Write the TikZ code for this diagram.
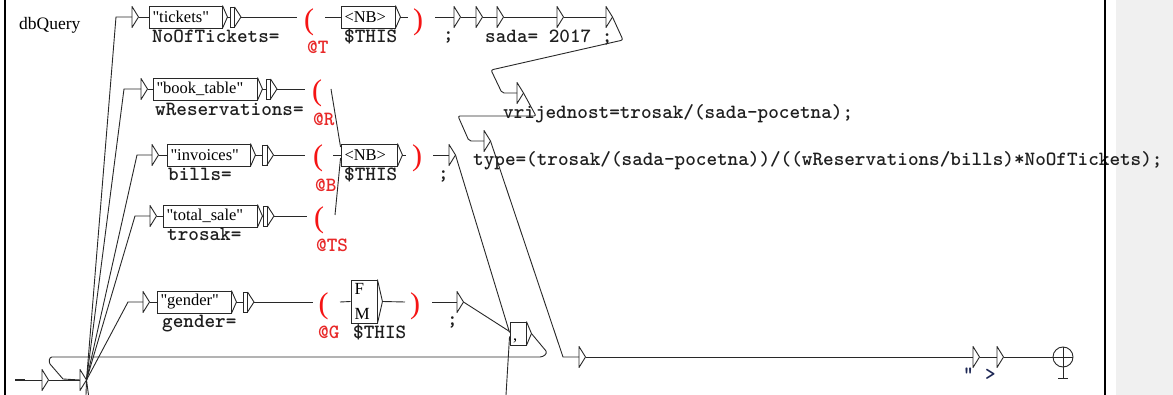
\documentclass[tikz,border=0pt]{standalone}
\usepackage{fontspec}
\setmainfont{Liberation Serif}
\newfontfamily\boxfam{Liberation Serif}
\usetikzlibrary{calc}

\definecolor{varred}{RGB}{232,40,40}
\definecolor{parred}{RGB}{245,20,20}
\definecolor{outnavy}{RGB}{30,40,85}
\definecolor{panelgray}{RGB}{240,240,240}
\definecolor{ink}{RGB}{40,40,40}

\newcommand{\outfont}{\fontsize{20.2}{22}\selectfont\ttfamily\bfseries}
\newcommand{\boxfont}{\fontsize{16.5}{18}\selectfont\boxfam}
% the ">" exit mark on the right side of a box, with its exit point
\newcommand{\boxtip}[1]{\draw[wire, line join=round] (#1.north east) -- ([xshift=5pt]#1.east) coordinate (#1-out) -- (#1.south east);}

\tikzset{
  wire/.style={line width=0.9pt, draw=ink},
  boxnode/.style={draw=ink, line width=0.9pt, text=black, inner xsep=3.5pt,
    inner ysep=0pt, minimum height=22pt, align=left, font=\boxfont},
  outtext/.style={anchor=base west, inner sep=0pt, font=\outfont, text=black!88},
  vartext/.style={outtext, text=varred},
  paren/.style={inner sep=0pt, font=\fontsize{30}{32}\selectfont\boxfam, text=parred},
  pics/epsbox/.style={code={
    \coordinate (-in) at (0,0);
    \coordinate (-out) at (6.5,0);
    \draw[wire, line join=round] (0,-10.5) -- (0,10.5) -- (6.5,0) -- cycle;
  }},
  pics/varend/.style={code={
    \coordinate (-in) at (0,0);
    \coordinate (-out) at (11,0);
    \draw[wire] (0,-10) rectangle (4.5,10);
    \draw[wire, line join=round] (4.5,-10) -- (11,0) -- (4.5,10);
  }},
}

\begin{document}
\begin{tikzpicture}[x=1pt, y=-1pt]
\useasboundingbox (0,0) rectangle (1173,395);
\fill[white] (0,0) rectangle (1173,395);
\fill[panelgray] (1116,0) rectangle (1173,395);
\draw[line width=2pt, black] (5,0) -- (5,395);

\node[anchor=base west, inner sep=0pt, font=\fontsize{17.5}{20}\selectfont] (title) at (19,30) {dbQuery};

% initial state
\coordinate (init) at (15,380);
\coordinate (initend) at (25,380);
\draw[line width=2.4pt, ink] (init) -- (initend);
\pic (s1) at (42,380) {epsbox};
\pic (s2) at (80,380) {epsbox};
\draw[wire] (initend) -- (s1-in);
\draw[wire] (s1-out) -- (s2-in);

% ---------- row 1 : tickets ----------
\pic (e1) at (132,17) {epsbox};
\node[boxnode, text width=66pt] (b1) at (185.5,17) {"tickets"};
\boxtip{b1}
\pic (v1) at (230,17) {varend};
\draw[wire] (e1-out) -- (b1.west) (b1-out) -- (v1-in) (v1-out) -- (297,17);
\node[paren] (po1) at (309,22) {(};
\node[boxnode, text width=47pt] (nb1) at (368,17) {<NB>};
\boxtip{nb1}
\draw[wire] (325,17) -- (nb1.west) (nb1-out) -- (408,17);
\node[paren] (pc1) at (418,22) {)};
\pic (t1a) at (454,17) {epsbox};
\pic (t1b) at (476,17) {epsbox};
\pic (t1c) at (497,17) {epsbox};
\pic (t1d) at (557,17) {epsbox};
\pic (t1e) at (606,17) {epsbox};
\draw[wire] (435,17) -- (t1a-in) (t1a-out) -- (t1b-in) (t1b-out) -- (t1c-in)
  (t1c-out) -- (t1d-in) (t1d-out) -- (t1e-in);
\node[outtext] (o1) at (152,43) {NoOfTickets=};
\node[outtext] (th1) at (344,43) {\$THIS};
\node[vartext] (vT) at (307,54) {@T};
\node[outtext] (sc1) at (443,41) {;};
\node[outtext] (sada) at (485,43) {sada= 2017 ;};

% ---------- row 2 : book_table ----------
\pic (e2) at (141,89) {epsbox};
\node[boxnode, text width=97pt] (b2) at (205,89) {"book\_table"};
\boxtip{b2}
\pic (v2) at (266,89) {varend};
\draw[wire] (e2-out) -- (b2.west) (b2-out) -- (v2-in) (v2-out) -- (305,89);
\node[paren] (po2) at (317,93) {(};
\node[outtext] (o2) at (155,116) {wReservations=};
\node[vartext] (vR) at (313,126) {@R};

% ---------- row 3 : invoices ----------
\pic (e3) at (152,155) {epsbox};
\node[boxnode, text width=76pt] (b3) at (208.5,155) {"invoices"};
\boxtip{b3}
\pic (v3) at (262.5,155) {varend};
\draw[wire] (e3-out) -- (b3.west) (b3-out) -- (v3-in) (v3-out) -- (305,155);
\node[paren] (po3) at (318,158.5) {(};
\node[boxnode, text width=49pt] (nb2) at (369,155) {<NB>};
\boxtip{nb2}
\draw[wire] (333,155) -- (nb2.west) (nb2-out) -- (406,155);
\node[paren] (pc3) at (417,158.5) {)};
\pic (t3) at (449,155) {epsbox};
\draw[wire] (433,155) -- (t3-in);
\node[outtext] (o3) at (168,181) {bills=};
\node[outtext] (th3) at (344,181) {\$THIS};
\node[vartext] (vB) at (315,192) {@B};
\node[outtext] (sc3) at (438,180) {;};

% ---------- row 4 : total_sale ----------
\pic (e4) at (150,216) {epsbox};
\node[boxnode, text width=87pt] (b4) at (210,216) {"total\_sale"};
\boxtip{b4}
\pic (v4) at (263,216) {varend};
\draw[wire] (e4-out) -- (b4.west) (b4-out) -- (v4-in) (v4-out) -- (307,216);
\node[paren] (po4) at (319,220) {(};
\node[outtext] (o4) at (167,241) {trosak=};
\node[vartext] (vTS) at (316,252) {@TS};

% variables R and TS lead into the shared number box
\draw[wire] (331,89) -- ([yshift=8pt]nb2.west);
\draw[wire] (335,215) -- ([yshift=-3pt]nb2.west);

% ---------- row 5 : gender ----------
\pic (e5) at (143,302) {epsbox};
\node[boxnode, text width=67pt] (b5) at (194,302) {"gender"};
\boxtip{b5}
\pic (v5) at (243,302) {varend};
\draw[wire] (e5-out) -- (b5.west) (b5-out) -- (v5-in) (v5-out) -- (313,302);
\node[paren] (po5) at (323.5,306) {(};
\node[boxnode, text width=19pt, minimum height=43pt, font=\fontsize{17}{25}\selectfont\boxfam] (fm) at (364,301.5) {F\\M};
\boxtip{fm}
\draw[wire] (340,302) -- (fm.west) (fm-out) -- (405,302);
\node[paren] (pc5) at (415,306) {)};
\pic (t5) at (457,302) {epsbox};
\draw[wire] (432,302) -- (t5-in);
\node[outtext] (o5) at (162,327) {gender=};
\node[outtext] (th5) at (353,339) {\$THIS};
\node[vartext] (vG) at (318,339) {@G};
\node[outtext] (sc5) at (447,326) {;};

% fan of transitions from the initial state
\foreach \e/\cx/\cy in {e1/116/17, e2/124/89, e3/137/155, e4/135/216, e5/128/302}
  \draw[wire] (s2-out) -- (\cx,\cy) -- (\e-in);
\draw[wire] (s2-out) -- (86,395) (s2-out) -- (88.5,395);

% separator box and its loop back to the start
\node[draw=ink, line width=0.9pt, minimum width=16pt, minimum height=23pt, inner xsep=3pt,
  inner ysep=0pt, text width=10pt, text height=14pt, text depth=0pt, align=left,
  font=\boxfont] (cm) at (518,333.5) {,};
\boxtip{cm}
\draw[wire] (t3-out) -- ([yshift=1pt]cm.west);
\draw[wire] (t5-out) -- ([yshift=2pt]cm.west);
\draw[wire] (cm-out) -- (546,351) to[out=-60,in=0] (540,357) -- (52,357)
  to[out=180,in=120] (50,364) -- (63,379) -- (s2-in);
\draw[wire] ([yshift=-3pt]cm.west) -- (506,395);

% computed values
\pic (vr) at (517,93) {epsbox};
\draw[wire, rounded corners=2pt] (t1e-out) -- (623,40) -- (491,70) -- (502,93) -- (vr-in);
\node[outtext] (vrtx) at (503,119) {vrijednost=trosak/(sada-pocetna);};
\pic (ty) at (484,141) {epsbox};
\draw[wire, rounded corners=2pt] (vr-out) -- (536,116) -- (458,116) -- (469,141) -- (ty-in);
\node[outtext] (tytx) at (473,166) {type=(trosak/(sada-pocetna))/((wReservations/bills)*NoOfTickets);};

% tail to the final state
\pic (g1) at (579,357) {epsbox};
\pic (g2) at (973,357) {epsbox};
\pic (g3) at (997,357) {epsbox};
\node[circle, draw=ink, line width=0.9pt, minimum size=20pt, inner sep=0pt] (fin) at (1063,357) {};
\draw[wire] (ty-out) -- (563,357) -- (g1-in);
\draw[wire] (g1-out) -- (g2-in) (g2-out) -- (g3-in) (g3-out) -- (fin.west);
\draw[wire] (fin.west) -- (fin.east) (fin.north) -- (1063,378) (1058,378) -- (1068,378);
\node[outtext, text=outnavy] (q1) at (963,381) {"};
\node[outtext, text=outnavy] (q2) at (985,381) {>};

\draw[line width=2pt, black] (1105,0) -- (1105,395);
\end{tikzpicture}
\end{document}
